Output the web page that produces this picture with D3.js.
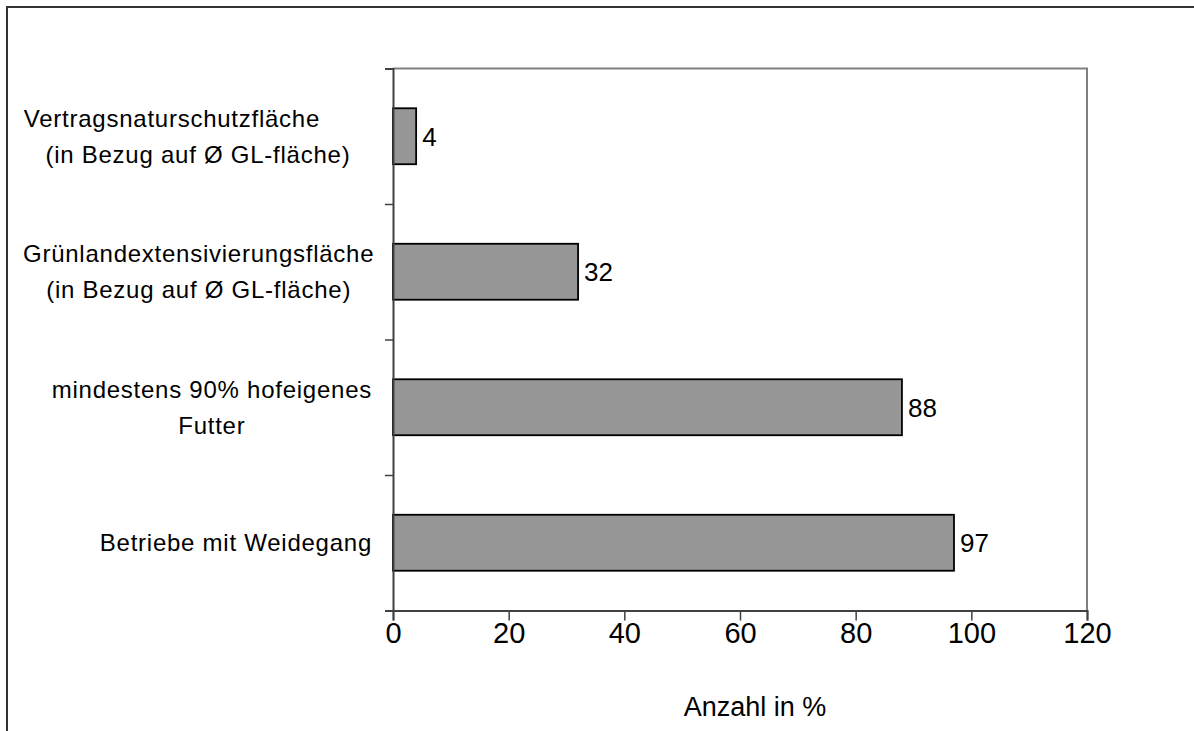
<!DOCTYPE html>
<html>
<head>
<meta charset="utf-8">
<script src="https://cdn.jsdelivr.net/npm/d3@7"></script>
<style>
  html, body { margin: 0; padding: 0; background: #fff; }
  svg { display: block; }
  text { font-family: "Liberation Sans", Arial, sans-serif; fill: #000; }
</style>
</head>
<body>
<svg id="chart" width="1194" height="731"></svg>
<script>
// Category labels (top to bottom), one entry per line
const categories = [
  ["Vertragsnaturschutzfläche\u00A0\u00A0\u00A0\u00A0\u00A0\u00A0\u00A0", "(in Bezug auf Ø GL-fläche)"],
  ["Grünlandextensivierungsfläche", "(in Bezug auf Ø GL-fläche)"],
  ["mindestens 90% hofeigenes", "Futter"],
  ["Betriebe mit Weidegang"]
];
const values = [4, 32, 88, 97];
const xTicks = [0, 20, 40, 60, 80, 100, 120];
const xTitle = "Anzahl in %";

const svg = d3.select("#chart");
const W = 1194, H = 731;
const plot = { left: 393, right: 1087, top: 68.5, bottom: 610.5 };

// outer frame (runs off the right and bottom edges)
svg.append("rect")
  .attr("x", 7).attr("y", 7)
  .attr("width", W + 20).attr("height", H + 20)
  .attr("fill", "none").attr("stroke", "#333").attr("stroke-width", 2);

const x = d3.scaleLinear().domain([0, 120]).range([plot.left, plot.right]);
const y = d3.scaleBand().domain(d3.range(categories.length))
  .range([plot.top, plot.bottom]).padding(0);
const barH = y.bandwidth() * 0.413;

// plot area border: top and right in grey
svg.append("path")
  .attr("d", `M${plot.left},${plot.top}H${plot.right}V${plot.bottom}`)
  .attr("fill", "none").attr("stroke", "#808080").attr("stroke-width", 2);

// bars
svg.append("g").selectAll("rect").data(values).join("rect")
  .attr("x", x(0))
  .attr("y", (d, i) => y(i) + (y.bandwidth() - barH) / 2)
  .attr("width", d => x(d) - x(0))
  .attr("height", barH)
  .attr("fill", "#969696")
  .attr("stroke", "#000").attr("stroke-width", 1.8);

// value labels
svg.append("g").selectAll("text").data(values).join("text")
  .attr("x", d => x(d) + 6)
  .attr("y", (d, i) => y(i) + y.bandwidth() / 2)
  .attr("dy", "0.36em")
  .attr("font-size", 26)
  .text(d => d);

// x axis
const xAxis = svg.append("g")
  .attr("transform", `translate(0,${plot.bottom})`)
  .call(d3.axisBottom(x).tickValues(xTicks).tickSize(10).tickPadding(2).tickFormat(d3.format("d")));
xAxis.select(".domain").attr("stroke", "#404040").attr("stroke-width", 2);
xAxis.selectAll(".tick line").attr("stroke", "#404040").attr("stroke-width", 1.5);
xAxis.selectAll(".tick text").attr("font-size", 29).attr("font-family", null).attr("fill", "#000");

// y axis: ticks on the band boundaries
const yEdge = d3.scaleLinear().domain([0, categories.length]).range([plot.top, plot.bottom]);
const yAxis = svg.append("g")
  .attr("transform", `translate(${plot.left},0)`)
  .call(d3.axisLeft(yEdge).tickValues(d3.range(categories.length + 1)).tickSize(8).tickFormat(""));
yAxis.select(".domain").attr("stroke", "#404040").attr("stroke-width", 2);
yAxis.selectAll(".tick line").attr("stroke", "#404040").attr("stroke-width", 1.5);

// category labels: centred text blocks, right edge near the axis, kept inside the frame
const lineGap = 36;
const labelRight = 372, labelMinLeft = 23;
categories.forEach((lines, i) => {
  const g = svg.append("g");
  const t = g.append("text")
    .attr("font-size", 24)
    .attr("letter-spacing", "0.75px")
    .attr("text-anchor", "middle")
    .style("white-space", "pre");
  const cy = y(i) + y.bandwidth() / 2;
  const y0 = cy - (lines.length - 1) * lineGap / 2;
  lines.forEach((ln, k) => {
    t.append("tspan").attr("x", 0).attr("y", y0 + k * lineGap).attr("dy", "0.36em").text(ln);
  });
  const w = d3.max(t.selectAll("tspan").nodes(), n => n.getComputedTextLength());
  let cx = labelRight - w / 2;
  if (cx - w / 2 < labelMinLeft) cx = labelMinLeft + w / 2;
  t.selectAll("tspan").attr("x", cx);
});

// x axis title
svg.append("text")
  .attr("x", 755)
  .attr("y", 706)
  .attr("dy", "0.36em")
  .attr("text-anchor", "middle")
  .attr("font-size", 27)
  .text(xTitle);
</script>
</body>
</html>
